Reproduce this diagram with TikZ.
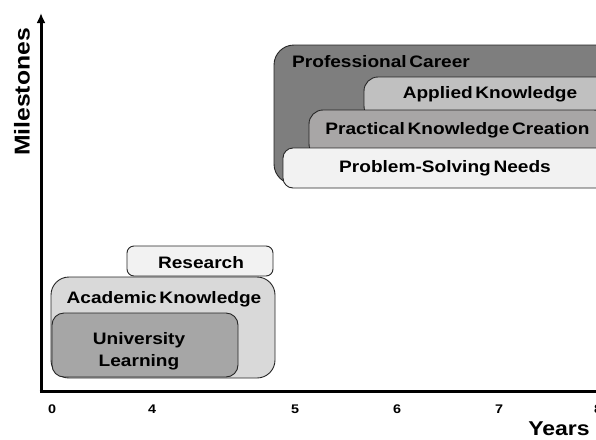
\documentclass[tikz,border=0pt]{standalone}
\usepackage{fontspec}
\setmainfont{Liberation Sans}[FakeStretch=1.15,WordSpace=0.5]
\usetikzlibrary{arrows.meta}
\definecolor{career}{HTML}{7E7E7E}
\definecolor{applied}{HTML}{C0C0C0}
\definecolor{practical}{HTML}{A8A6A6}
\definecolor{needs}{HTML}{F2F2F2}
\definecolor{academic}{HTML}{D9D9D9}
\definecolor{univ}{HTML}{A6A6A6}
\tikzset{
  box/.style={draw=black!85, line width=0.9pt},
  lbl/.style={font=\bfseries\fontsize{16.6}{19}\selectfont, inner sep=0pt},
  tick/.style={font=\bfseries\fontsize{12.5}{14}\selectfont, inner sep=0pt},
  axtitle/.style={font=\bfseries\fontsize{20}{22}\selectfont, inner sep=0pt},
  axis/.style={line width=3pt, black}
}
\begin{document}
\begin{tikzpicture}[x=1pt,y=-1pt]
\useasboundingbox (0,0) rectangle (596,439);
\fill[white] (0,0) rectangle (596,439);
\clip (0,0) rectangle (596,439);

% upper group: professional career stack
\draw[box, fill=career, rounded corners=20pt] (274,45) rectangle (620,184);
\draw[box, fill=applied, rounded corners=14pt] (364,77) rectangle (610,120);
\draw[box, fill=practical, rounded corners=14pt] (309,110) rectangle (608,158);
\draw[box, fill=needs, rounded corners=10pt] (283,148) rectangle (606,188);

\node[lbl, anchor=west] (career) at (292,62) {Professional Career};
\node[lbl] (applied) at (490,94) {Applied Knowledge};
\node[lbl] (practical) at (457.5,130.5) {Practical Knowledge Creation};
\node[lbl] (needs) at (445,168) {Problem-Solving Needs};

% lower group: academic stack
\draw[box, fill=needs, rounded corners=7pt] (127,246) rectangle (273,276);
\draw[box, fill=academic, rounded corners=18pt] (51,277) rectangle (275,378);
\draw[box, fill=univ, rounded corners=12pt] (52,313) rectangle (238,377);

\node[lbl] (research) at (201,262.5) {Research};
\node[lbl] (academic) at (164,299) {Academic Knowledge};
\node[lbl, align=center, text width=120pt] (univ) at (139,351) {University\\[3pt]Learning};

% axes
\coordinate (origin) at (41,391);
\coordinate (ytop) at (41,13);
\coordinate (xend) at (600,391);
\draw[axis] (39.5,391) -- (xend);
\draw[axis, -{Latex[length=10pt,width=9pt]}] (41,392.5) -- (ytop);

\node[tick] (t0) at (52,409) {0};
\node[tick] (t4) at (152,409) {4};
\node[tick] (t5) at (295,409) {5};
\node[tick] (t6) at (397,409) {6};
\node[tick] (t7) at (499,409) {7};
\node[tick] (t8) at (598,409) {8};

\node[axtitle] (years) at (559,429) {Years};
\node[axtitle, rotate=90, font=\bfseries\fontsize{21.5}{24}\selectfont] (miles) at (22,92) {Milestones};
\end{tikzpicture}
\end{document}
